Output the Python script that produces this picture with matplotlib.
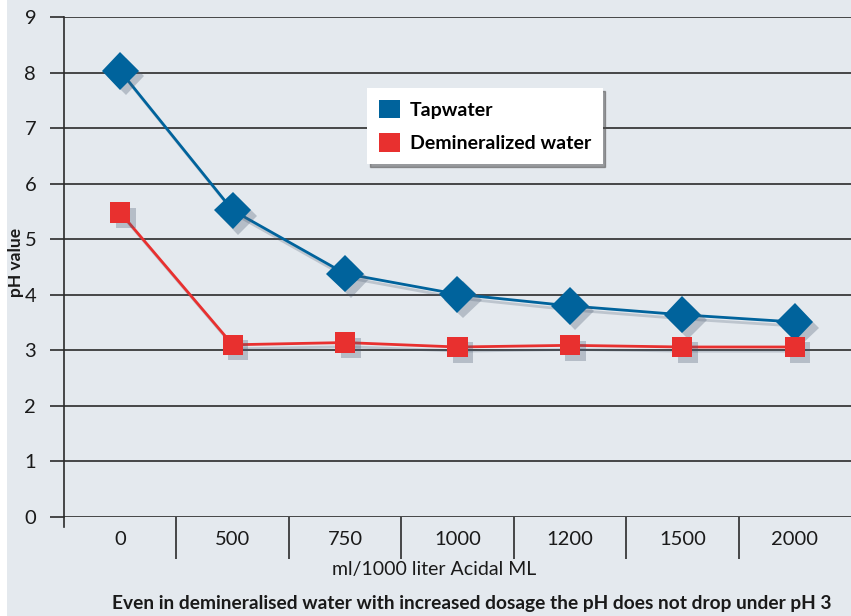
import matplotlib
matplotlib.use("Agg")
import matplotlib.pyplot as plt
import matplotlib.patheffects as pe
from matplotlib.patches import Rectangle, Patch
from matplotlib.lines import Line2D

# chart data
dosages = ["0", "500", "750", "1000", "1200", "1500", "2000"]
tapwater = [8.03, 5.52, 4.38, 4.01, 3.80, 3.64, 3.51]
demineralized = [5.48, 3.10, 3.14, 3.06, 3.09, 3.06, 3.06]

plt.rcParams['font.family'] = ['Lato', 'DejaVu Sans']

bg = '#e4e9ee'
blue = '#00639c'
red = '#e8302f'
grid_c = '#2b2b2b'
text_c = '#1a1a1a'

fig = plt.figure(figsize=(8.51, 6.16), dpi=100, facecolor='white')
fig.patches.append(Rectangle((7 / 851, 0), 1, 1, transform=fig.transFigure,
                             facecolor=bg, edgecolor='none', zorder=-10))

ax = fig.add_axes([64 / 851, 99 / 616, 787 / 851, 500 / 616])
ax.set_facecolor(bg)

x = list(range(len(dosages)))
line_sh = [pe.SimpleLineShadow(offset=(2, -3), shadow_color='#4a5a70', alpha=0.25), pe.Normal()]
mark_sh = [pe.SimplePatchShadow(offset=(4, -4), shadow_rgbFace='#4a5a70', alpha=0.3), pe.Normal()]
# lines
ax.plot(x, tapwater, color=blue, lw=2, path_effects=line_sh, zorder=3)
ax.plot(x, demineralized, color=red, lw=2, path_effects=line_sh, zorder=3)
# markers
ax.plot(x, tapwater, ls='none', marker='D', markersize=19, color=blue,
        markeredgewidth=0, path_effects=mark_sh, zorder=4)
ax.plot(x, demineralized, ls='none', marker='s', markersize=14.5, color=red,
        markeredgewidth=0, path_effects=mark_sh, zorder=4)

ax.set_xlim(-0.5, 6.5)
ax.set_ylim(0, 9)
ax.set_yticks(range(0, 10))
ax.yaxis.grid(True, color=grid_c, lw=1.2)
ax.set_axisbelow(True)
for s in ['top', 'right', 'bottom']:
    ax.spines[s].set_visible(False)
ax.spines['left'].set_color(grid_c)
ax.spines['left'].set_linewidth(1.2)
ax.add_line(Line2D([0, 0], [-0.02, 0], transform=ax.transAxes, color=grid_c,
                   lw=1.2, clip_on=False))

ax.set_xticks(x)
ax.set_xticklabels(dosages)
ax.tick_params(axis='x', which='major', length=0, pad=10, labelsize=14.5, colors=text_c)
ax.set_xticks([i + 0.5 for i in range(6)], minor=True)
ax.tick_params(axis='x', which='minor', length=30, width=1.2, color=grid_c, direction='out')
ax.tick_params(axis='y', length=10, width=1.2, color=grid_c, pad=10, labelsize=14.5,
               labelcolor=text_c)

fig.text(16 / 851, 1 - 262 / 616, "pH value", rotation=90, ha='center', va='center',
         fontsize=12.5, fontweight='bold', color=text_c)
fig.text(434 / 851, 1 - 570 / 616, "ml/1000 liter Acidal ML", ha='center', va='center',
         fontsize=14, color=text_c)
fig.text(472 / 851, 1 - 603 / 616,
         "Even in demineralised water with increased dosage the pH does not drop under pH 3",
         ha='center', va='center', fontsize=13.8, fontweight='bold', color=text_c)

handles = [Patch(facecolor=blue, edgecolor='none', label='Tapwater'),
           Patch(facecolor=red, edgecolor='none', label='Demineralized water')]
leg = ax.legend(handles=handles, loc='upper left', bbox_to_anchor=(0.385, 0.858),
                borderaxespad=0, frameon=True, fancybox=False, shadow=True, framealpha=1,
                prop={'size': 14, 'weight': 'bold'}, handlelength=1.1, handleheight=1.1,
                borderpad=0.6, labelspacing=0.75, handletextpad=0.5)
leg.get_frame().set_edgecolor('none')
leg.set_zorder(6)

fig.savefig('out.png', dpi=100, facecolor=fig.get_facecolor())
